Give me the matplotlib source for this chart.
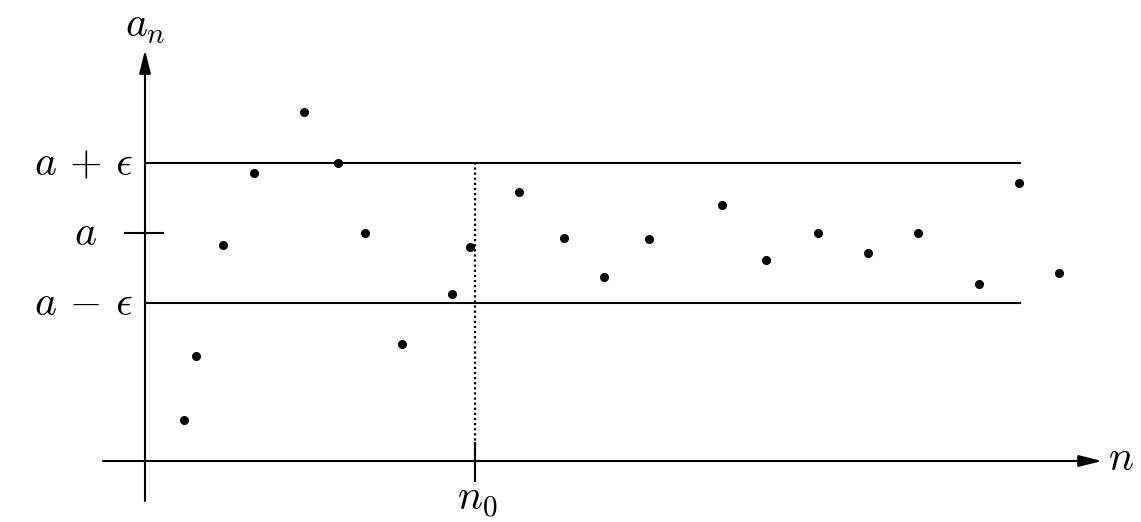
import matplotlib
matplotlib.use("Agg")
import matplotlib.pyplot as plt

plt.rcParams['mathtext.fontset'] = 'cm'

# sequence values (x = index position, y = value), origin at axis crossing
seq_x = [39, 51, 78, 109, 159, 193, 220, 257, 307, 325, 374, 419, 459, 504, 577, 621, 673, 723, 773, 834, 874, 914]
seq_y = [41, 105, 216, 288, 349, 298, 228, 117, 167, 214, 269, 223, 184, 222, 256, 201, 228, 208, 228, 177, 278, 188]

a_level = 228
eps = 70
n0 = 330
band_end = 875
y_labels = ["$a\\,+\\,\\epsilon$", "$a$", "$a\\,-\\,\\epsilon$"]

fig = plt.figure(figsize=(11.41, 5.22), dpi=100)
ax = fig.add_axes([0, 0, 1, 1])
ax.set_xlim(-145, 996)
ax.set_ylim(-61, 461)
ax.axis('off')

lw = 1.5
# axes with arrows
ax.annotate('', xy=(957, 0), xytext=(-42, 0),
            arrowprops=dict(arrowstyle='-|>,head_length=1.4,head_width=0.35', color='black', lw=lw, shrinkA=0, shrinkB=0))
ax.annotate('', xy=(0, 411), xytext=(0, -40),
            arrowprops=dict(arrowstyle='-|>,head_length=1.4,head_width=0.35', color='black', lw=lw, shrinkA=0, shrinkB=0))

# band lines
ax.plot([0, band_end], [a_level + eps, a_level + eps], color='black', lw=lw)
ax.plot([0, band_end], [a_level - eps, a_level - eps], color='black', lw=lw)
# tick for a
ax.plot([-20, 18], [a_level, a_level], color='black', lw=lw)
# n0 dotted line and tick
ax.plot([n0, n0], [0, a_level + eps], color='black', lw=1.6, ls=(0, (1.0, 1.3)))
ax.plot([n0, n0], [-20, 18], color='black', lw=lw)

# points
ax.plot(seq_x, seq_y, 'o', color='black', ms=5.5, mec='black')

fs = 30
ax.text(-62, a_level + eps, y_labels[0], fontsize=fs, ha='center', va='center')
ax.text(-60, a_level, y_labels[1], fontsize=fs, ha='center', va='center')
ax.text(-62, a_level - eps, y_labels[2], fontsize=fs, ha='center', va='center')
ax.text(0, 436, "$a_n$", fontsize=fs, ha='center', va='center')
ax.text(n0 + 2, -38, "$n_0$", fontsize=fs, ha='center', va='center')
ax.text(976, 3, "$n$", fontsize=fs, ha='center', va='center')

fig.savefig("out.png", dpi=100)
